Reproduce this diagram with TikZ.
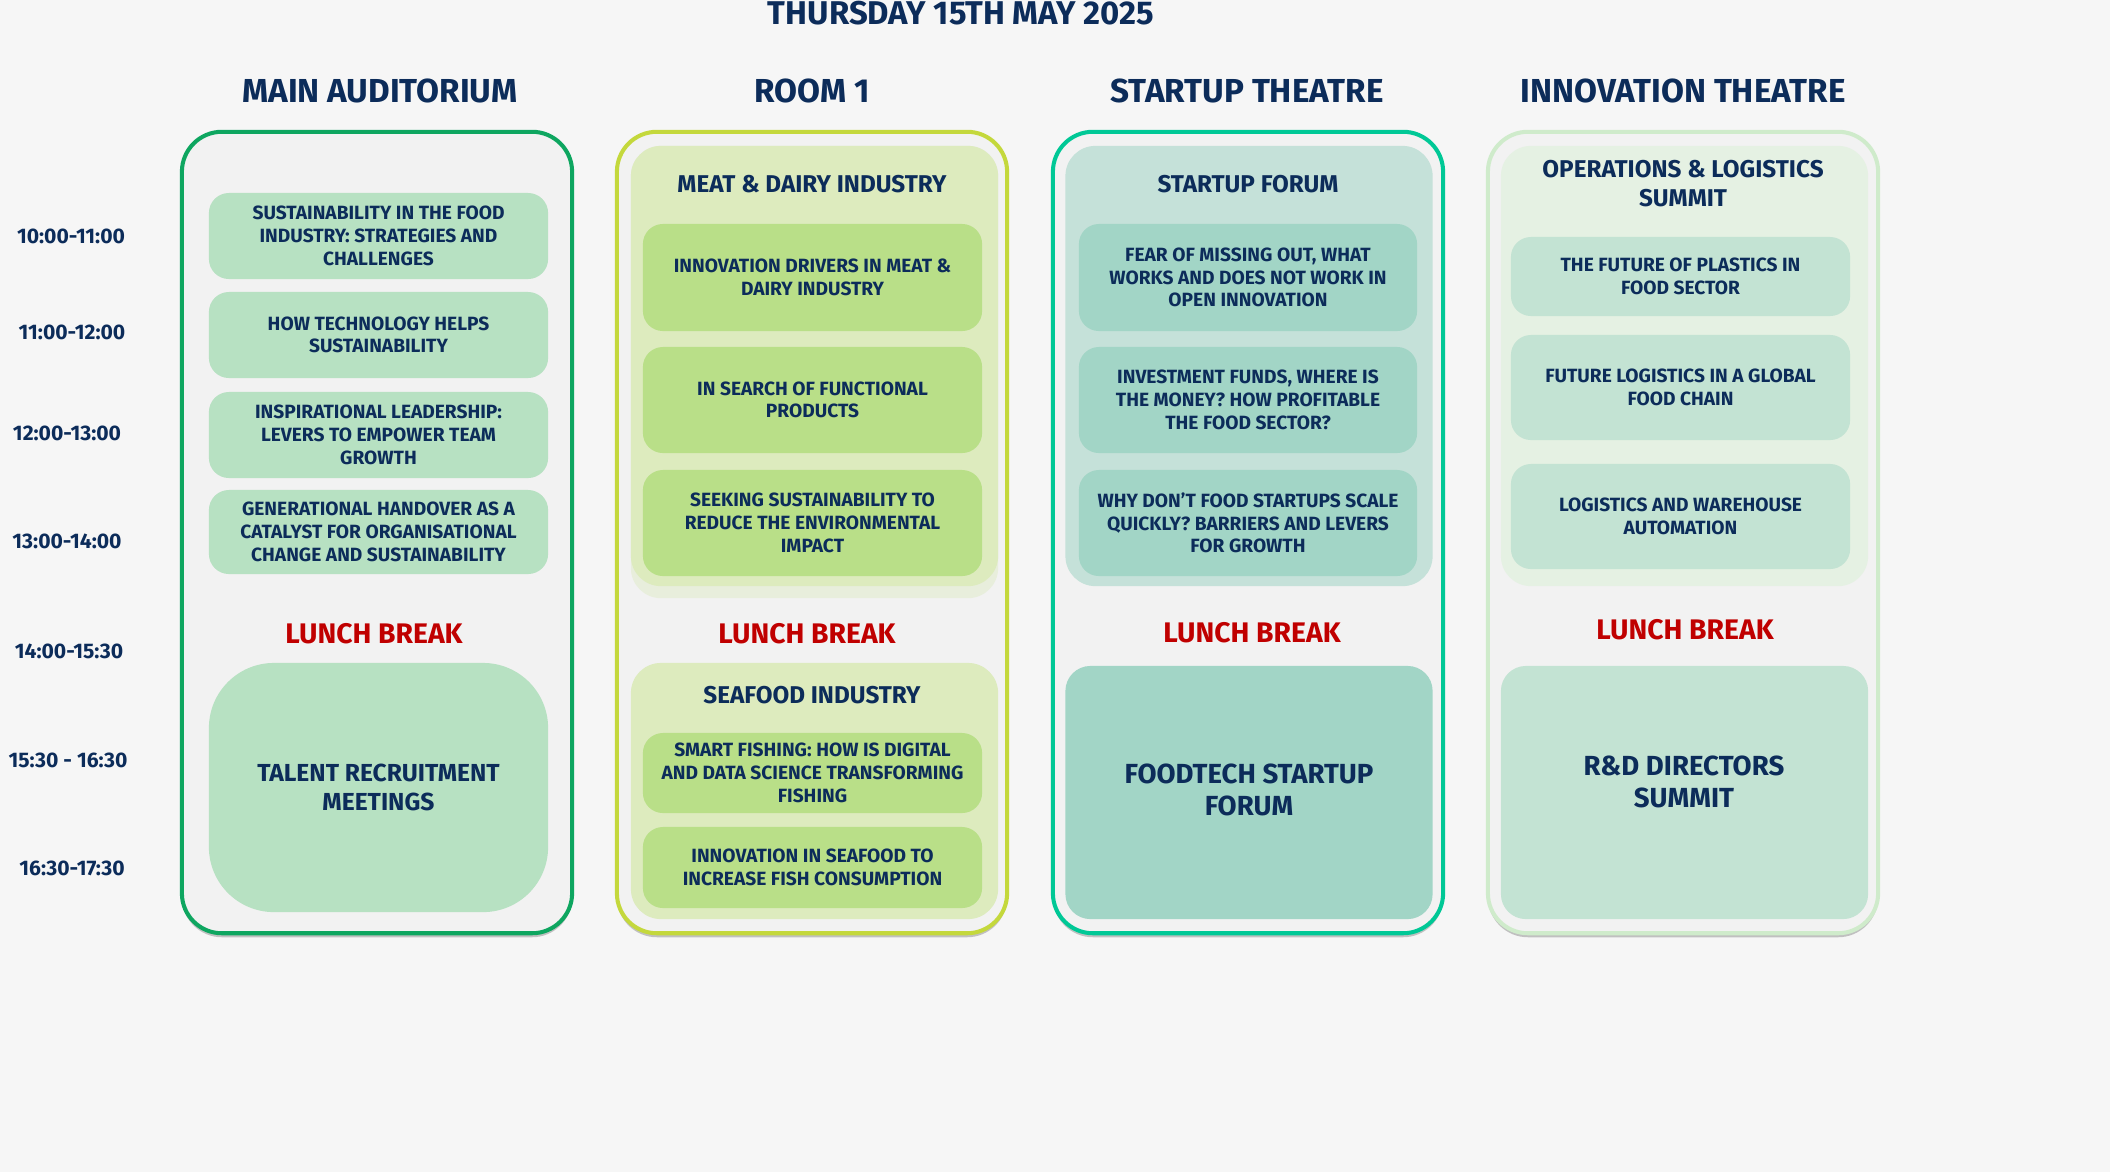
\documentclass[tikz,border=0pt]{standalone}
\usepackage{fontspec}
\setmainfont{Fira Sans}
\usetikzlibrary{positioning,shadows}
\definecolor{pagebg}{RGB}{246,246,246}
\definecolor{panelbg}{RGB}{242,242,242}
\definecolor{navy}{RGB}{12,44,90}
\definecolor{lunchred}{RGB}{192,0,0}
\definecolor{mainline}{RGB}{14,166,96}
\definecolor{mainitem}{RGB}{183,225,194}
\definecolor{roomline}{RGB}{196,216,60}
\definecolor{meatbox}{RGB}{221,235,190}
\definecolor{meatfade}{RGB}{232,238,220}
\definecolor{meatitem}{RGB}{185,223,136}
\definecolor{startline}{RGB}{0,200,150}
\definecolor{startbox}{RGB}{197,225,217}
\definecolor{startitem}{RGB}{162,213,198}
\definecolor{innoline}{RGB}{207,235,203}
\definecolor{innobox}{RGB}{229,241,227}
\definecolor{innoitem}{RGB}{195,227,211}
\begin{document}
\begin{tikzpicture}[x=0.01cm,y=-0.01cm,line cap=round,line join=round,
  every node/.style={inner sep=0pt,align=center,text=navy,font=\bfseries},
  panel/.style={draw=#1,line width=1.15pt,fill=panelbg,rounded corners=0.4cm,minimum width=3.9cm,minimum height=8.01cm,
    drop shadow={shadow xshift=0pt,shadow yshift=-0.04cm,opacity=.45,fill=black!50}},
  room/.style={font=\fontsize{9.45}{11}\selectfont\bfseries},
  track/.style={fill=#1,rounded corners=0.3cm,minimum width=3.67cm},
  trackname/.style={font=\fontsize{6.9}{8.3}\selectfont\bfseries},
  talk/.style={fill=#1,rounded corners=0.2cm,minimum width=3.39cm,font=\fontsize{5.45}{6.45}\selectfont\bfseries},
  big/.style={fill=#1,rounded corners=0.25cm,minimum width=3.67cm,minimum height=2.53cm,font=\fontsize{7.85}{9.1}\selectfont\bfseries},
  lunch/.style={text=lunchred,font=\fontsize{8.05}{9}\selectfont\bfseries},
  slot/.style={font=\fontsize{6}{7}\selectfont\bfseries}]
\fill[pagebg] (0,0) rectangle (2110,1172);
\useasboundingbox (0,0) rectangle (2110,1172);

\node[font=\fontsize{9.35}{10}\selectfont\bfseries] (title) at (961,13) {THURSDAY 15TH MAY 2025};

% time slots
\foreach \lbl/\xx/\yy [count=\i] in {10:00-11:00/71/236,11:00-12:00/72/332,12:00-13:00/67/433,13:00-14:00/67/541,14:00-15:30/69/651,15:30 - 16:30/68/760,16:30-17:30/72/868}
  \node[slot] (slot\i) at (\xx,\yy) {\lbl};

% rooms
\node[panel=mainline] (pmain) at (377,532.5) {};
\node[panel=roomline] (proom) at (812,532.5) {};
\node[panel=startline] (pstart) at (1248,532.5) {};
\node[panel=innoline] (pinno) at (1683,532.5) {};
\node[room] (hmain) at (380,91) {MAIN AUDITORIUM};
\node[room] (hroom) at (812,91) {ROOM 1};
\node[room] (hstart) at (1247,91) {STARTUP THEATRE};
\node[room] (hinno) at (1683,91) {INNOVATION THEATRE};

% main auditorium
\node[talk=mainitem,minimum height=0.86cm] (ma1) at (378.5,236) {SUSTAINABILITY IN THE FOOD\\INDUSTRY: STRATEGIES AND\\CHALLENGES};
\node[talk=mainitem,minimum height=0.86cm] (ma2) at (378.5,335) {HOW TECHNOLOGY HELPS\\SUSTAINABILITY};
\node[talk=mainitem,minimum height=0.86cm] (ma3) at (378.5,435) {INSPIRATIONAL LEADERSHIP:\\LEVERS TO EMPOWER TEAM\\GROWTH};
\node[talk=mainitem,minimum height=0.84cm] (ma4) at (378.5,532) {GENERATIONAL HANDOVER AS A\\CATALYST FOR ORGANISATIONAL\\CHANGE AND SUSTAINABILITY};
\node[lunch] (lmain) at (374,634) {LUNCH BREAK};
\node[big=mainitem,minimum width=3.39cm,minimum height=2.49cm,rounded corners=0.65cm,font=\fontsize{7}{8}\selectfont\bfseries] (talent) at (378.5,787.5) {TALENT RECRUITMENT\\MEETINGS};

% room 1
\node[track=meatfade,minimum height=4.52cm] (meatfade) at (814.5,372) {};
\node[track=meatbox,minimum height=4.40cm] (meat) at (814.5,366) {};
\node[trackname] (meatname) at (812,184) {MEAT \& DAIRY INDUSTRY};
\node[talk=meatitem,minimum height=1.07cm] (ro1) at (812.5,277.5) {INNOVATION DRIVERS IN MEAT \&\\DAIRY INDUSTRY};
\node[talk=meatitem,minimum height=1.06cm] (ro2) at (812.5,400) {IN SEARCH OF FUNCTIONAL\\PRODUCTS};
\node[talk=meatitem,minimum height=1.06cm] (ro3) at (812.5,523) {SEEKING SUSTAINABILITY TO\\REDUCE THE ENVIRONMENTAL\\IMPACT};
\node[lunch] (lroom) at (807,634) {LUNCH BREAK};
\node[track=meatbox,minimum height=2.56cm] (sea) at (814.5,791) {};
\node[trackname] (seaname) at (812,695) {SEAFOOD INDUSTRY};
\node[talk=meatitem,minimum height=0.80cm] (se1) at (812.5,773) {SMART FISHING: HOW IS DIGITAL\\AND DATA SCIENCE TRANSFORMING\\FISHING};
\node[talk=meatitem,minimum height=0.81cm] (se2) at (812.5,867.5) {INNOVATION IN SEAFOOD TO\\INCREASE FISH CONSUMPTION};

% startup theatre
\node[track=startbox,minimum height=4.40cm] (forum) at (1249,366) {};
\node[trackname] (forumname) at (1248,184) {STARTUP FORUM};
\node[talk=startitem,minimum width=3.38cm,minimum height=1.07cm] (st1) at (1248,277.5) {FEAR OF MISSING OUT, WHAT\\WORKS AND DOES NOT WORK IN\\OPEN INNOVATION};
\node[talk=startitem,minimum width=3.38cm,minimum height=1.06cm] (st2) at (1248,400) {INVESTMENT FUNDS, WHERE IS\\THE MONEY? HOW PROFITABLE\\THE FOOD SECTOR?};
\node[talk=startitem,minimum width=3.38cm,minimum height=1.06cm] (st3) at (1248,523) {WHY DON'T FOOD STARTUPS SCALE\\QUICKLY? BARRIERS AND LEVERS\\FOR GROWTH};
\node[lunch] (lstart) at (1252,633) {LUNCH BREAK};
\node[big=startitem,text depth=0.06cm] (foodtech) at (1249,792.5) {FOODTECH STARTUP\\FORUM};

% innovation theatre
\node[track=innobox,minimum height=4.40cm] (ops) at (1684.5,366) {};
\node[trackname] (opsname) at (1683,183.5) {OPERATIONS \& LOGISTICS\\SUMMIT};
\node[talk=innoitem,minimum height=0.79cm] (in1) at (1680.5,276.5) {THE FUTURE OF PLASTICS IN\\FOOD SECTOR};
\node[talk=innoitem,minimum height=1.05cm] (in2) at (1680.5,387.5) {FUTURE LOGISTICS IN A GLOBAL\\FOOD CHAIN};
\node[talk=innoitem,minimum height=1.05cm] (in3) at (1680.5,516.5) {LOGISTICS AND WAREHOUSE\\AUTOMATION};
\node[lunch] (linno) at (1685,630) {LUNCH BREAK};
\node[big=innoitem] (rnd) at (1684.5,792.5) {};
\node[font=\fontsize{7.85}{9.2}\selectfont\bfseries] (rndname) at (1684,782) {R\&D DIRECTORS\\SUMMIT};
\end{tikzpicture}
\end{document}
